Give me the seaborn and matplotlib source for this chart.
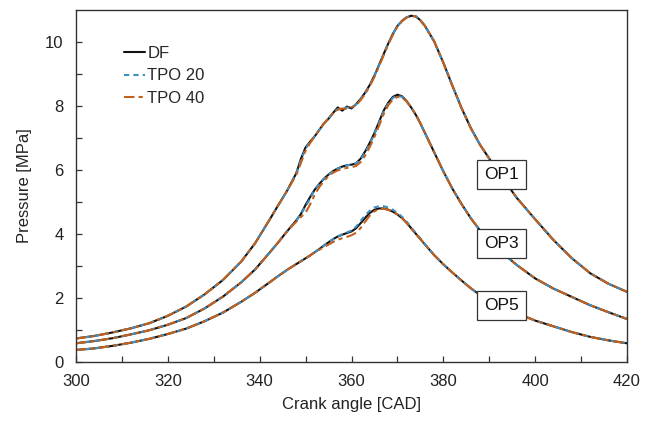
import numpy as np
import pandas as pd
import matplotlib
matplotlib.use("Agg")
import matplotlib.pyplot as plt
import seaborn as sns

# ---------------- data ----------------
cad = [300, 304, 308, 312, 316, 320, 324, 328, 332, 336, 339, 342, 344, 346, 348,
       349, 350, 351, 352, 353, 354, 355, 356, 357, 358, 359, 360, 361, 362, 363,
       364, 365, 366, 367, 368, 369, 370, 371, 372, 373, 374, 375, 376, 378, 380,
       382, 384, 386, 388, 390, 393, 396, 400, 404, 408, 412, 416, 420]

op1_df = [0.72, 0.80, 0.91, 1.04, 1.20, 1.43, 1.72, 2.10, 2.55, 3.13, 3.70, 4.40, 4.88, 5.35, 5.90,
          6.35, 6.70, 6.88, 7.05, 7.25, 7.45, 7.60, 7.78, 7.95, 7.85, 7.98, 7.92, 8.05, 8.22, 8.42,
          8.66, 8.95, 9.28, 9.62, 9.95, 10.25, 10.50, 10.66, 10.77, 10.82, 10.80, 10.68, 10.50, 10.02, 9.35,
          8.62, 7.92, 7.30, 6.78, 6.35, 5.72, 5.12, 4.45, 3.80, 3.23, 2.76, 2.43, 2.18]
op1_tpo20 = [0.72, 0.80, 0.91, 1.04, 1.20, 1.43, 1.72, 2.10, 2.55, 3.13, 3.70, 4.40, 4.88, 5.35, 5.90,
             6.30, 6.66, 6.88, 7.05, 7.25, 7.45, 7.60, 7.78, 7.90, 7.90, 7.95, 7.94, 8.05, 8.22, 8.42,
             8.66, 8.95, 9.28, 9.62, 9.95, 10.25, 10.50, 10.66, 10.77, 10.82, 10.80, 10.68, 10.50, 10.02, 9.35,
             8.62, 7.92, 7.30, 6.78, 6.35, 5.72, 5.12, 4.45, 3.80, 3.23, 2.76, 2.43, 2.18]
op1_tpo40 = [0.72, 0.80, 0.91, 1.04, 1.20, 1.43, 1.72, 2.10, 2.55, 3.13, 3.70, 4.40, 4.88, 5.35, 5.85,
             6.22, 6.60, 6.84, 7.05, 7.25, 7.45, 7.60, 7.78, 7.88, 7.92, 7.90, 7.96, 8.02, 8.18, 8.38,
             8.62, 8.91, 9.24, 9.58, 9.92, 10.22, 10.48, 10.65, 10.76, 10.81, 10.80, 10.68, 10.50, 10.02, 9.35,
             8.62, 7.92, 7.30, 6.78, 6.35, 5.72, 5.12, 4.45, 3.80, 3.23, 2.76, 2.43, 2.18]

op3_df = [0.57, 0.64, 0.73, 0.85, 0.98, 1.15, 1.36, 1.66, 2.03, 2.48, 2.88, 3.38, 3.72, 4.08, 4.42,
          4.62, 4.90, 5.15, 5.38, 5.56, 5.72, 5.85, 5.96, 6.04, 6.10, 6.14, 6.16, 6.20, 6.35, 6.58,
          6.85, 7.15, 7.50, 7.85, 8.10, 8.28, 8.35, 8.30, 8.15, 7.95, 7.72, 7.45, 7.15, 6.55, 5.95,
          5.40, 4.92, 4.48, 4.10, 3.80, 3.38, 3.02, 2.60, 2.28, 2.02, 1.76, 1.54, 1.33]
op3_tpo20 = [0.57, 0.64, 0.73, 0.85, 0.98, 1.15, 1.36, 1.66, 2.03, 2.48, 2.88, 3.38, 3.72, 4.08, 4.42,
             4.62, 4.85, 5.10, 5.38, 5.56, 5.72, 5.85, 5.96, 6.04, 6.10, 6.14, 6.16, 6.20, 6.33, 6.55,
             6.82, 7.12, 7.47, 7.82, 8.07, 8.25, 8.32, 8.28, 8.14, 7.95, 7.72, 7.45, 7.15, 6.55, 5.95,
             5.40, 4.92, 4.48, 4.10, 3.80, 3.38, 3.02, 2.60, 2.28, 2.02, 1.76, 1.54, 1.33]
op3_tpo40 = [0.57, 0.64, 0.73, 0.85, 0.98, 1.15, 1.36, 1.66, 2.03, 2.48, 2.88, 3.38, 3.72, 4.08, 4.38,
             4.52, 4.66, 4.92, 5.22, 5.46, 5.65, 5.80, 5.91, 5.98, 6.03, 6.06, 6.08, 6.12, 6.24, 6.45,
             6.72, 7.03, 7.38, 7.74, 8.02, 8.20, 8.28, 8.26, 8.14, 7.95, 7.73, 7.46, 7.16, 6.55, 5.95,
             5.40, 4.92, 4.48, 4.10, 3.80, 3.38, 3.02, 2.60, 2.28, 2.02, 1.76, 1.54, 1.33]

op5_df = [0.36, 0.41, 0.49, 0.59, 0.71, 0.86, 1.03, 1.26, 1.53, 1.87, 2.15, 2.46, 2.67, 2.87, 3.05,
          3.14, 3.23, 3.32, 3.42, 3.52, 3.63, 3.73, 3.83, 3.91, 3.97, 4.02, 4.07, 4.17, 4.33, 4.50,
          4.65, 4.75, 4.79, 4.79, 4.75, 4.69, 4.60, 4.49, 4.34, 4.17, 4.00, 3.83, 3.66, 3.33, 3.04,
          2.78, 2.53, 2.29, 2.08, 1.92, 1.70, 1.51, 1.28, 1.10, 0.92, 0.77, 0.66, 0.57]
op5_tpo20 = [0.36, 0.41, 0.49, 0.59, 0.71, 0.86, 1.03, 1.26, 1.53, 1.87, 2.15, 2.46, 2.67, 2.87, 3.05,
             3.14, 3.23, 3.32, 3.42, 3.52, 3.63, 3.73, 3.83, 3.91, 3.98, 4.04, 4.10, 4.22, 4.40, 4.58,
             4.72, 4.82, 4.86, 4.86, 4.82, 4.75, 4.65, 4.53, 4.38, 4.20, 4.02, 3.85, 3.67, 3.33, 3.04,
             2.78, 2.53, 2.29, 2.08, 1.92, 1.70, 1.51, 1.28, 1.10, 0.92, 0.77, 0.66, 0.57]
op5_tpo40 = [0.36, 0.41, 0.49, 0.59, 0.71, 0.86, 1.03, 1.26, 1.53, 1.87, 2.15, 2.46, 2.67, 2.87, 3.05,
             3.14, 3.23, 3.32, 3.42, 3.50, 3.58, 3.66, 3.74, 3.81, 3.86, 3.90, 3.95, 4.03, 4.18, 4.38,
             4.57, 4.70, 4.77, 4.78, 4.75, 4.69, 4.60, 4.49, 4.34, 4.17, 4.00, 3.83, 3.66, 3.33, 3.04,
             2.78, 2.53, 2.29, 2.08, 1.92, 1.70, 1.51, 1.28, 1.10, 0.92, 0.77, 0.66, 0.57]

fuels = ["DF", "TPO 20", "TPO 40"]
op_names = ["OP1", "OP3", "OP5"]
op_label_pos = {"OP1": (392.7, 5.86), "OP3": (392.7, 3.70), "OP5": (392.7, 1.74)}

x_ticks = [300, 320, 340, 360, 380, 400, 420]
y_ticks = [0, 2, 4, 6, 8, 10]

series = {
    ("OP1", "DF"): op1_df, ("OP1", "TPO 20"): op1_tpo20, ("OP1", "TPO 40"): op1_tpo40,
    ("OP3", "DF"): op3_df, ("OP3", "TPO 20"): op3_tpo20, ("OP3", "TPO 40"): op3_tpo40,
    ("OP5", "DF"): op5_df, ("OP5", "TPO 20"): op5_tpo20, ("OP5", "TPO 40"): op5_tpo40,
}

rows = []
for (op, fuel), vals in series.items():
    for c, p in zip(cad, vals):
        rows.append({"CAD": c, "Pressure": p, "Fuel": fuel, "OP": op})
df = pd.DataFrame(rows)

# ---------------- style ----------------
sns.set_style("ticks")
plt.rcParams["font.family"] = ["Liberation Sans", "DejaVu Sans"]
plt.rcParams["font.size"] = 12

palette = {"DF": "#111111", "TPO 20": "#3E8FC4", "TPO 40": "#C2611D"}
dashes = {"DF": "", "TPO 20": (2.5, 2.0), "TPO 40": (5.0, 2.0, 2.0, 2.0)}

fig = plt.figure(figsize=(6.45, 4.22), dpi=100)
ax = fig.add_axes([76 / 645, 1 - 361.5 / 422, 551 / 645, 351.5 / 422])

sns.lineplot(data=df, x="CAD", y="Pressure", hue="Fuel", style="Fuel",
             units="OP", estimator=None, hue_order=fuels, style_order=fuels,
             palette=palette, dashes=dashes, linewidth=1.5, ax=ax, sort=False)

ax.set_xlim(300, 420)
ax.set_ylim(0, 11)
ax.set_xticks(x_ticks)
ax.set_yticks(y_ticks)
ax.set_xticks(np.arange(310, 420, 20), minor=True)
ax.set_yticks(np.arange(1, 11, 2), minor=True)
ax.tick_params(axis="both", which="both", direction="in", length=4, width=0.9,
               color="#333333", labelsize=12, labelcolor="#222222")
ax.tick_params(axis="x", which="major", pad=9)
ax.tick_params(axis="y", which="major", pad=9)
for s in ax.spines.values():
    s.set_visible(True)
    s.set_linewidth(1.0)
    s.set_color("#333333")

ax.set_xlabel("Crank angle [CAD]", fontsize=12, color="#222222", labelpad=6)
ax.set_ylabel("Pressure [MPa]", fontsize=12, color="#222222", labelpad=9)

for op in op_names:
    x, y = op_label_pos[op]
    ax.text(x, y, op, fontsize=12.5, ha="center", va="center", color="#111111",
            bbox=dict(boxstyle="square,pad=0.4", fc="white", ec="#333333", lw=0.9),
            zorder=5)

handles, labels = ax.get_legend_handles_labels()
ax.legend(handles, labels, loc="upper left", bbox_to_anchor=(0.087, 0.898),
          frameon=False, fontsize=12, handlelength=1.25, handletextpad=0.15,
          labelspacing=0.45, borderpad=0, borderaxespad=0)

fig.savefig("out.png", dpi=100)
